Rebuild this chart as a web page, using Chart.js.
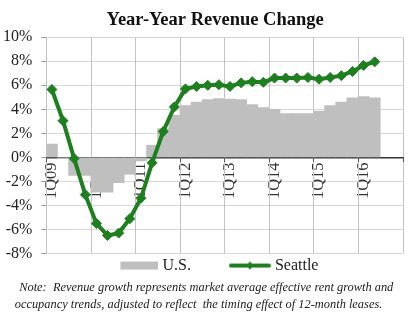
<!DOCTYPE html>
<html>
<head>
<meta charset="utf-8">
<script src="https://cdn.jsdelivr.net/npm/chart.js@4/dist/chart.umd.min.js"></script>
<style>
  html, body { margin: 0; padding: 0; background: #fff; }
  canvas { display: block; }
</style>
</head>
<body>
<canvas id="myChart" width="418" height="322"></canvas>
<script>
// Year-Year Revenue Change
// ////////////

// Quarters on the x axis, only the 1Q ones get a label
const quarters = [
  '1Q09', '2Q09', '3Q09', '4Q09',
  '1Q10', '2Q10', '3Q10', '4Q10',
  '1Q11', '2Q11', '3Q11', '4Q11',
  '1Q12', '2Q12', '3Q12', '4Q12',
  '1Q13', '2Q13', '3Q13', '4Q13',
  '1Q14', '2Q14', '3Q14', '4Q14',
  '1Q15', '2Q15', '3Q15', '4Q15',
  '1Q16', '2Q16', '3Q16', '4Q16'
];

// U.S. (gray bars), % change
const usValues = [
  1.1, -0.1, -1.5, -1.5,
  -2.9, -2.9, -2.1, -1.4,
  -0.3, 1.0, 2.4, 3.5,
  4.3, 4.6, 4.8, 4.9,
  4.85, 4.8, 4.4, 4.15,
  4.0, 3.65, 3.65, 3.65,
  3.85, 4.3, 4.6, 4.95,
  5.05, 4.95, null, null
];

// Seattle (green line), % change
const seattleValues = [
  5.65, 3.05, -0.1, -3.1,
  -5.5, -6.5, -6.3, -5.1,
  -3.4, -0.45, 2.15, 4.2,
  5.7, 5.9, 6.0, 6.05,
  5.9, 6.2, 6.3, 6.25,
  6.6, 6.6, 6.6, 6.65,
  6.5, 6.65, 6.8, 7.15,
  7.65, 7.95, null, null
];

// y axis ticks
const yMin = -8;
const yMax = 10;
const yStep = 2;

const serif = "'Liberation Serif', 'DejaVu Serif', serif";
const usColor = '#bfbfbf';
const seattleColor = '#1e7f1e';
const gridColor = '#d9d9d9';
const columnColor = '#c4c4c4';

Chart.defaults.font.family = serif;
Chart.defaults.color = '#222';

// little pictures for the legend keys (drawn in the right part so the text sits close)
const usKey = document.createElement('canvas');
usKey.width = 48;
usKey.height = 10;
let k = usKey.getContext('2d');
k.fillStyle = usColor;
k.fillRect(10, 1, 38, 8);

const seattleKey = document.createElement('canvas');
seattleKey.width = 48;
seattleKey.height = 10;
k = seattleKey.getContext('2d');
k.strokeStyle = seattleColor;
k.lineWidth = 4;
k.lineCap = 'round';
k.beginPath();
k.moveTo(8, 5);
k.lineTo(46, 5);
k.stroke();
k.fillStyle = seattleColor;
k.beginPath();
k.moveTo(27, 1);
k.lineTo(31, 5);
k.lineTo(27, 9);
k.lineTo(23, 5);
k.closePath();
k.fill();

// vertical grid line + small tick at the start of every year, taken from the x scale
const yearLines = {
  id: 'yearLines',
  beforeDatasetsDraw(chart) {
    const { ctx, chartArea, scales: { x, y } } = chart;
    const half = (x.getPixelForTick(1) - x.getPixelForTick(0)) / 2;
    const y0 = Math.round(y.getPixelForValue(0));
    ctx.save();
    ctx.lineWidth = 1;
    for (let i = 0; i <= quarters.length; i += 4) {
      const edge = i < quarters.length
        ? x.getPixelForTick(i) - half
        : x.getPixelForTick(quarters.length - 1) + half;
      const px = Math.round(edge) + 0.5;
      ctx.strokeStyle = columnColor;
      ctx.beginPath();
      ctx.moveTo(px, chartArea.top);
      ctx.lineTo(px, chartArea.bottom);
      ctx.stroke();
      ctx.strokeStyle = '#555';
      ctx.beginPath();
      ctx.moveTo(px, y0);
      ctx.lineTo(px, y0 + 5);
      ctx.stroke();
    }
    ctx.restore();
  }
};

const ctx = document.getElementById('myChart');

new Chart(ctx, {
  type: 'bar',
  data: {
    labels: quarters,
    datasets: [{
      type: 'bar',
      label: 'U.S.',
      data: usValues,
      backgroundColor: usColor,
      barPercentage: 1.0,
      categoryPercentage: 1.0,
      order: 2
    }, {
      type: 'line',
      label: 'Seattle',
      data: seattleValues,
      borderColor: seattleColor,
      backgroundColor: seattleColor,
      borderWidth: 4,
      pointStyle: 'rectRot',
      pointRadius: 5,
      pointBorderWidth: 1,
      tension: 0,
      order: 1
    }]
  },
  options: {
    responsive: false,
    animation: false,
    layout: {
      padding: { left: -6, right: 15, top: 7, bottom: 9 }
    },
    scales: {
      x: {
        position: { y: 0 },
        grid: { display: false, drawTicks: true, tickLength: 4 },
        border: { color: '#333', width: 1.5 },
        ticks: {
          autoSkip: false,
          minRotation: 90,
          maxRotation: 90,
          padding: 1,
          color: '#333',
          font: { size: 16.5 },
          callback: function(value, index) {
            return index % 4 === 0 ? this.getLabelForValue(value) : '';
          }
        }
      },
      y: {
        min: yMin,
        max: yMax,
        grid: {
          color: gridColor,
          tickColor: '#999',
          tickLength: 5
        },
        border: { color: columnColor },
        ticks: {
          stepSize: yStep,
          padding: 9,
          color: '#222',
          font: { size: 16 },
          callback: (v) => v + '%'
        }
      }
    },
    plugins: {
      title: {
        display: true,
        fullSize: false,
        text: 'Year-Year Revenue Change    ',
        color: '#111',
        font: { size: 18.5, weight: 'bold' },
        padding: { top: 2, bottom: 6 }
      },
      legend: {
        position: 'bottom',
        fullSize: false,
        labels: {
          usePointStyle: true,
          pointStyleWidth: 40,
          padding: 4,
          color: '#222',
          font: { size: 16, lineHeight: 1 },
          generateLabels: () => [
            { text: 'U.S.        ', pointStyle: usKey, datasetIndex: 0, fontColor: '#222', lineWidth: 0 },
            { text: 'Seattle    ', pointStyle: seattleKey, datasetIndex: 1, fontColor: '#222', lineWidth: 0 }
          ]
        }
      },
      subtitle: {
        display: true,
        position: 'bottom',
        text: [
          '     Note:  Revenue growth represents market average effective rent growth and',
          'occupancy trends, adjusted to reflect  the timing effect of 12-month leases.'
        ],
        color: '#222',
        font: { size: 12.4, style: 'italic', lineHeight: 1.35 },
        padding: { top: -4, bottom: 0 }
      },
      tooltip: { enabled: false }
    }
  },
  plugins: [yearLines]
});
</script>
</body>
</html>
